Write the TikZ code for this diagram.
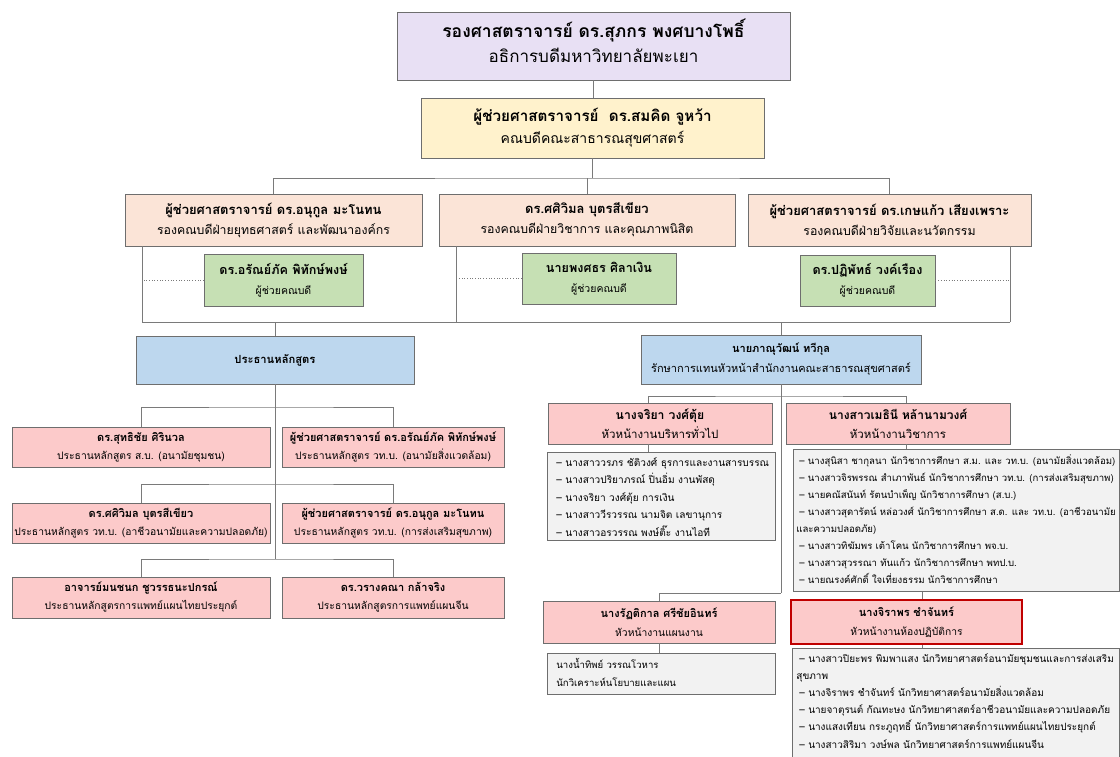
\documentclass[tikz,border=0pt]{standalone}
\usepackage{fontspec}
\setmainfont[Script=Thai]{Loma}
\definecolor{cPurple}{HTML}{E8E0F4}
\definecolor{cYellow}{HTML}{FFF2CC}
\definecolor{cPeach}{HTML}{FBE4D7}
\definecolor{cGreen}{HTML}{C6E0B4}
\definecolor{cBlue}{HTML}{BDD7EE}
\definecolor{cPink}{HTML}{FCCACA}
\definecolor{cGray}{HTML}{F2F2F2}
\definecolor{edgeGray}{HTML}{6E6E6E}
\definecolor{lineGray}{HTML}{7A7A7A}
\definecolor{hiRed}{HTML}{C00000}
% text helpers: #1 = size of the bold name line / role line
\newcommand\nm[2]{{\fontsize{#1}{#1}\selectfont\bfseries #2}}
\newcommand\rl[2]{{\fontsize{#1}{#1}\selectfont #2}}
\newcommand\listbody[5]{\parbox[c][#1][t]{#2}{\raggedright\fontsize{#3}{#4}\selectfont\vspace*{5pt}#5}}
\begin{document}
\begin{tikzpicture}[x=1pt,y=-1pt,
  card/.style={draw=edgeGray, line width=0.8pt, align=center, inner sep=0pt},
  gap/.style={font=\fontsize{10}{#1}\selectfont},
  listcard/.style={draw=edgeGray, line width=0.8pt, fill=cGray, inner sep=0pt, anchor=north west},
  conn/.style={draw=lineGray, line width=0.8pt},
  dotline/.style={draw=lineGray, line width=0.7pt, dotted}]
\useasboundingbox (0,0) rectangle (1120,756);
\fill[white] (0,0) rectangle (1120,756);

% ---- executive level ----
\node[card, gap=25, fill=cPurple, minimum width=393, minimum height=68] (top) at (593.5,46)
  {\nm{17.5}{รองศาสตราจารย์ ดร.สุภกร พงศบางโพธิ์}\\\rl{17}{อธิการบดีมหาวิทยาลัยพะเยา}\rule[-10pt]{0pt}{10pt}};
\node[card, gap=22, fill=cYellow, minimum width=343, minimum height=60] (dean) at (592.5,128)
  {\nm{15.2}{ผู้ช่วยศาสตราจารย์\ \ ดร.สมคิด จูหว้า}\\\rl{14}{คณบดีคณะสาธารณสุขศาสตร์}};

% ---- associate deans ----
\node[card, gap=20, fill=cPeach, minimum width=297, minimum height=52] (vpL) at (273.5,220)
  {\nm{13}{ผู้ช่วยศาสตราจารย์ ดร.อนุกูล มะโนทน}\\\rl{12.3}{รองคณบดีฝ่ายยุทธศาสตร์ และพัฒนาองค์กร}};
\node[card, gap=20, fill=cPeach, minimum width=296, minimum height=52] (vpM) at (587,220)
  {\nm{13}{ดร.ศศิวิมล บุตรสีเขียว}\\\rl{12.3}{รองคณบดีฝ่ายวิชาการ และคุณภาพนิสิต}};
\node[card, gap=20, fill=cPeach, minimum width=283, minimum height=52] (vpR) at (889.5,220)
  {\nm{13}{ผู้ช่วยศาสตราจารย์ ดร.เกษแก้ว เสียงเพราะ}\\\rl{12.3}{รองคณบดีฝ่ายวิจัยและนวัตกรรม}};

% ---- assistant deans ----
\node[card, gap=20, fill=cGreen, minimum width=159, minimum height=52] (asL) at (283.5,280)
  {\nm{12.6}{ดร.อรัณย์ภัค พิทักษ์พงษ์}\\\rl{10.5}{ผู้ช่วยคณบดี}};
\node[card, gap=20, fill=cGreen, minimum width=154, minimum height=51] (asM) at (599,278.5)
  {\nm{12.6}{นายพงศธร ศิลาเงิน}\\\rl{10.5}{ผู้ช่วยคณบดี}};
\node[card, gap=20, fill=cGreen, minimum width=135, minimum height=51] (asR) at (867.5,280.5)
  {\nm{12.6}{ดร.ปฏิพัทธ์ วงค์เรือง}\\\rl{10.5}{ผู้ช่วยคณบดี}};

% ---- two branches ----
\node[card, fill=cBlue, minimum width=278, minimum height=48] (progs) at (275,360)
  {\nm{11.2}{ประธานหลักสูตร}};
\node[card, gap=20, fill=cBlue, minimum width=280, minimum height=49] (office) at (781,359.5)
  {\nm{11}{นายภาณุวัฒน์ ทวีกุล}\\\rl{11}{รักษาการแทนหัวหน้าสำนักงานคณะสาธารณสุขศาสตร์}};

% ---- programme chairs ----
\node[card, gap=18, fill=cPink, minimum width=258, minimum height=40] (pA) at (141,447)
  {\nm{11}{ดร.สุทธิชัย ศิรินวล}\\\rl{10.3}{ประธานหลักสูตร ส.บ. (อนามัยชุมชน)}};
\node[card, gap=18, fill=cPink, minimum width=222, minimum height=40] (pB) at (393,447)
  {\nm{11}{ผู้ช่วยศาสตราจารย์ ดร.อรัณย์ภัค พิทักษ์พงษ์}\\\rl{10.3}{ประธานหลักสูตร วท.บ. (อนามัยสิ่งแวดล้อม)}};
\node[card, gap=18, fill=cPink, minimum width=258, minimum height=40] (pC) at (141,523)
  {\nm{11}{ดร.ศศิวิมล บุตรสีเขียว}\\\rl{10.3}{ประธานหลักสูตร วท.บ. (อาชีวอนามัยและความปลอดภัย)}};
\node[card, gap=18, fill=cPink, minimum width=222, minimum height=40] (pD) at (393,523)
  {\nm{11}{ผู้ช่วยศาสตราจารย์ ดร.อนุกูล มะโนทน}\\\rl{10.3}{ประธานหลักสูตร วท.บ. (การส่งเสริมสุขภาพ)}};
\node[card, gap=18, fill=cPink, minimum width=258, minimum height=41] (pE) at (141,597.5)
  {\nm{11}{อาจารย์มนชนก ชูวรรธนะปกรณ์}\\\rl{10.3}{ประธานหลักสูตรการแพทย์แผนไทยประยุกต์}};
\node[card, gap=18, fill=cPink, minimum width=222, minimum height=41] (pF) at (393,597.5)
  {\nm{11}{ดร.วรางคณา กล้าจริง}\\\rl{10.3}{ประธานหลักสูตรการแพทย์แผนจีน}};

% ---- office units ----
\node[card, gap=19, fill=cPink, minimum width=224, minimum height=41] (jar) at (660,423.5)
  {\nm{12.2}{นางจริยา วงศ์ตุ้ย}\\\rl{11.5}{หัวหน้างานบริหารทั่วไป}};
\node[card, gap=19, fill=cPink, minimum width=224, minimum height=41] (met) at (898,423.5)
  {\nm{12}{นางสาวเมธินี หล้านามวงศ์}\\\rl{11.5}{หัวหน้างานวิชาการ}};
\node[card, gap=19, fill=cPink, minimum width=232, minimum height=42] (rat) at (659,622)
  {\nm{11}{นางรัฏติกาล ศรีชัยอินทร์}\\\rl{10.3}{หัวหน้างานแผนงาน}};
\node[card, gap=19, fill=cPink, draw=hiRed, line width=2.5pt, minimum width=231, minimum height=44] (jir) at (906.5,622)
  {\nm{11}{นางจิราพร ชำจันทร์}\\\rl{10.3}{หัวหน้างานห้องปฏิบัติการ}};

% ---- staff lists ----
\node[listcard] (jarL) at (547,452) {\listbody{88pt}{228pt}{10.1}{17.5}{%
  \hspace*{9pt}– นางสาววรภร ชัติวงศ์ ธุรการและงานสารบรรณ\\
  \hspace*{9pt}– นางสาวปริยาภรณ์ ปิ่นอิ่ม งานพัสดุ\\
  \hspace*{9pt}– นางจริยา วงศ์ตุ้ย การเงิน\\
  \hspace*{9pt}– นางสาววีรวรรณ นามจิต เลขานุการ\\
  \hspace*{9pt}– นางสาวอรวรรณ พงษ์ติ๊ะ งานไอที}};
\node[listcard] (metL) at (793,449) {\listbody{142pt}{325.5pt}{9.6}{17}{%
  \hspace*{6pt}– นางสุนิสา ชากุลนา นักวิชาการศึกษา ส.ม. และ วท.บ. (อนามัยสิ่งแวดล้อม)\\
  \hspace*{6pt}– นางสาวจิรพรรณ สำเภาพันธ์ นักวิชาการศึกษา วท.บ. (การส่งเสริมสุขภาพ)\\
  \hspace*{6pt}– นายคณัสนันท์ รัตนบำเพ็ญ นักวิชาการศึกษา (ส.บ.)\\
  \hspace*{6pt}– นางสาวสุดารัตน์ หล่อวงศ์ นักวิชาการศึกษา ส.ด. และ วท.บ. (อาชีวอนามัย\\
  \hspace*{3pt}และความปลอดภัย)\\
  \hspace*{6pt}– นางสาวทิฆัมพร เต้าโคน นักวิชาการศึกษา พจ.บ.\\
  \hspace*{6pt}– นางสาวสุวรรณา ทันแก้ว นักวิชาการศึกษา พทป.บ.\\
  \hspace*{6pt}– นายณรงค์ศักดิ์ ใจเที่ยงธรรม นักวิชาการศึกษา}};
\node[listcard] (ratL) at (547,653) {\listbody{41pt}{228pt}{9.6}{18}{%
  \hspace*{9pt}นางน้ำทิพย์ วรรณโวหาร\\
  \hspace*{9pt}นักวิเคราะห์นโยบายและแผน}};
\node[listcard] (jirL) at (792,648) {\listbody{125pt}{327pt}{10}{17.2}{%
  \hspace*{7pt}– นางสาวปิยะพร พิมพาแสง นักวิทยาศาสตร์อนามัยชุมชนและการส่งเสริม\\
  \hspace*{4pt}สุขภาพ\\
  \hspace*{7pt}– นางจิราพร ชำจันทร์ นักวิทยาศาสตร์อนามัยสิ่งแวดล้อม\\
  \hspace*{7pt}– นายจาตุรนต์ กัณทะษง นักวิทยาศาสตร์อาชีวอนามัยและความปลอดภัย\\
  \hspace*{7pt}– นางแสงเทียน กระภูฤทธิ์ นักวิทยาศาสตร์การแพทย์แผนไทยประยุกต์\\
  \hspace*{7pt}– นางสาวสิริมา วงษ์พล นักวิทยาศาสตร์การแพทย์แผนจีน}};

% ---- connector junctions ----
\coordinate (j1) at (593,178);
\coordinate (cL) at (142,322);
\coordinate (cM) at (456,322);
\coordinate (cR) at (1010,322);
\coordinate (b1) at (275,407);
\coordinate (b2) at (275,484);
\coordinate (b3) at (275,559);
\coordinate (o1) at (781,396);
\coordinate (o2) at (781,593);
\coordinate (jx) at (648,0);
\coordinate (mx) at (906,0);
\coordinate (kx) at (922,0);

% ---- top of the chart ----
\draw[conn] (top.south) -- (top.south |- dean.north);
\draw[conn] (dean.south) -- (dean.south |- j1);
\draw[conn] (vpL.north) |- (j1) -| (vpR.north);
\draw[conn] (vpM.north) -- (vpM.north |- j1);

% ---- side rails of the associate deans ----
\draw[conn] (vpL.south -| cL) -- (cL);
\draw[conn] (vpM.south -| cM) -- (cM);
\draw[conn] (vpR.south -| cR) -- (cR);
\draw[conn] (cL) -- (cR);
\draw[dotline] (asL.west) -- (asL.west -| cL);
\draw[dotline] (asM.west) -- (asM.west -| cM);
\draw[dotline] (asR.east) -- (asR.east -| cR);
\draw[conn] (progs.north) -- (progs.north |- cL);
\draw[conn] (office.north) -- (office.north |- cL);

% ---- programme chairs tree ----
\draw[conn] (progs.south) -- (b3);
\draw[conn] (pA.north) |- (b1) -| (pB.north);
\draw[conn] (pC.north) |- (b2) -| (pD.north);
\draw[conn] (pE.north) |- (b3) -| (pF.north);

% ---- office tree ----
\draw[conn] (office.south) -- (o2);
\draw[conn] (jar.north -| jx) |- (o1) -| (met.north -| mx);
\draw[conn] (jar.south -| jx) -- (jarL.north -| jx);
\draw[conn] (met.south -| mx) -- (metL.north -| mx);
\draw[conn] (rat.north) |- (o2);
\draw[conn] (rat.south) -- (rat.south |- ratL.north);
\draw[conn] (metL.south -| kx) -- (jir.north -| kx);
\draw[conn] (jir.south -| kx) -- (jirL.north -| kx);
\end{tikzpicture}
\end{document}
